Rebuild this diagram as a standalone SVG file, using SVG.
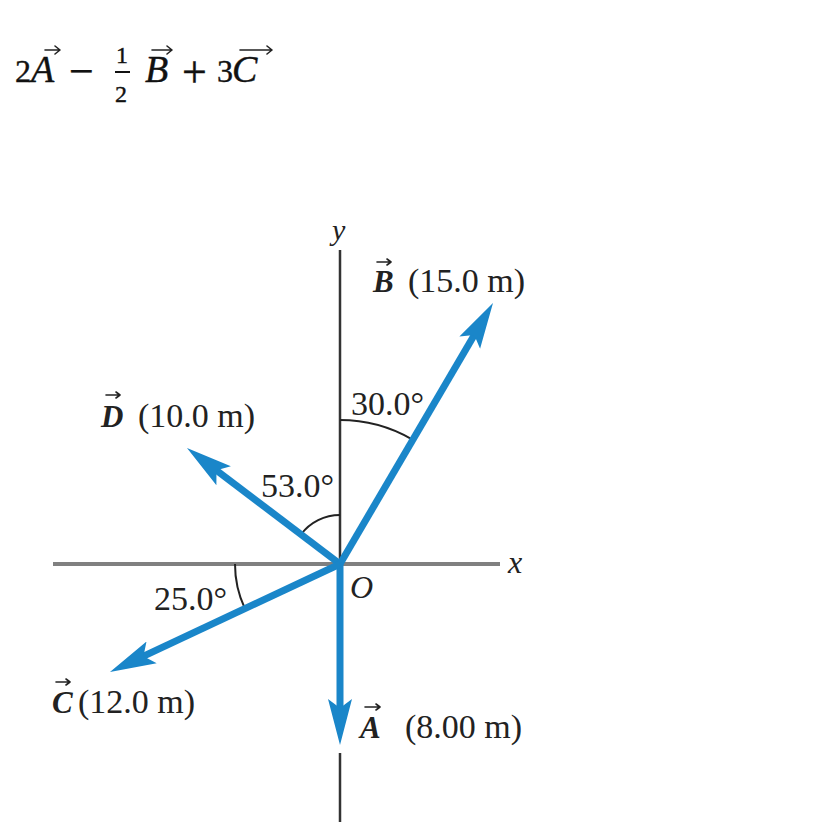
<svg xmlns="http://www.w3.org/2000/svg" width="818" height="835" viewBox="0 0 818 835">
<style>
.t{font-family:"Liberation Serif","Times New Roman",serif;fill:#222}
.eq{font-family:"Liberation Serif","Times New Roman",serif;fill:#111;stroke:#111;stroke-width:0.4}
.it{font-style:italic}
.bi{font-style:italic;font-weight:bold}
.vec{stroke:#1a86c9;stroke-width:7;fill:none}
.arc{stroke:#222;stroke-width:2;fill:none}
.ov{stroke:#222;stroke-width:1.6;fill:none;stroke-linecap:round;stroke-linejoin:round}
</style>
<defs>
<marker id="head" markerUnits="userSpaceOnUse" markerWidth="46" markerHeight="26" viewBox="0 0 46 26" refX="20" refY="13" orient="auto">
<path d="M46,13 L0,1 L9,13 L0,25 Z" fill="#1a86c9"/>
</marker>
</defs>
<rect width="818" height="835" fill="#fff"/>

<g id="equation">
<text class="eq" x="15" y="82" font-size="32">2</text>
<text class="eq it" x="31" y="82" font-size="38">A</text>
<path class="ov" d="M45,50 L60,50 M55,46 L60,50 L55,54"/>
<text class="eq" x="69" y="86" font-size="44">−</text>
<text class="eq" x="116" y="63" font-size="24">1</text>
<line x1="115" y1="72" x2="130" y2="72" stroke="#111" stroke-width="2"/>
<text class="eq" x="115" y="102" font-size="24">2</text>
<text class="eq it" x="145" y="82" font-size="38">B</text>
<path class="ov" d="M152,50 L172,50 M167,46 L172,50 L167,54"/>
<text class="eq" x="182" y="87" font-size="44">+</text>
<text class="eq" x="217" y="82" font-size="32">3</text>
<text class="eq it" x="232" y="82" font-size="38">C</text>
<path class="ov" d="M240,50 L272,50 M267,46 L272,50 L267,54"/>
</g>

<g id="axes">
<line x1="53" y1="564" x2="500" y2="564" stroke="#808080" stroke-width="4"/>
<line x1="340" y1="250" x2="340" y2="564" stroke="#333" stroke-width="2.5"/>
<line x1="340" y1="753" x2="340" y2="822" stroke="#333" stroke-width="2.5"/>
<text class="t it" x="332" y="240" font-size="30">y</text>
<text class="t it" x="508" y="573" font-size="32">x</text>
<text class="t it" x="350" y="598" font-size="32">O</text>
</g>

<g id="angles">
<path class="arc" d="M340,420 A144,144 0 0 1 412,439.3"/>
<path class="arc" d="M340,515 A49,49 0 0 0 300.9,534.5"/>
<path class="arc" d="M235,564 A105,105 0 0 0 244.8,608.4"/>
<text class="t" x="351" y="415" font-size="34">30.0°</text>
<text class="t" x="261" y="497" font-size="34">53.0°</text>
<text class="t" x="154" y="610" font-size="34">25.0°</text>
</g>

<g id="connectors">
<line class="vec" x1="340" y1="564" x2="340" y2="719" marker-end="url(#head)"/>
<line class="vec" x1="340" y1="564" x2="479.85" y2="325.43" marker-end="url(#head)"/>
<line class="vec" x1="340" y1="564" x2="207.7" y2="463.7" marker-end="url(#head)"/>
<line class="vec" x1="340" y1="564" x2="133.5" y2="660.95" marker-end="url(#head)"/>
</g>

<g id="labelB">
<text class="t bi" x="373" y="292" font-size="31">B</text>
<path class="ov" d="M377,262 L391,262 M387,259 L391,262 L387,265"/>
<text class="t" x="408" y="292" font-size="34">(15.0 m)</text>
</g>
<g id="labelD">
<text class="t bi" x="101" y="427" font-size="31">D</text>
<path class="ov" d="M106,395 L120,395 M116,392 L120,395 L116,398"/>
<text class="t" x="138" y="427" font-size="34">(10.0 m)</text>
</g>
<g id="labelC">
<text class="t bi" x="52" y="713" font-size="31">C</text>
<path class="ov" d="M56,682 L70,682 M66,679 L70,682 L66,685"/>
<text class="t" x="78" y="713" font-size="34">(12.0 m)</text>
</g>
<g id="labelA">
<text class="t bi" x="360" y="738" font-size="31">A</text>
<path class="ov" d="M365,707 L380,707 M376,704 L380,707 L376,710"/>
<text class="t" x="405" y="738" font-size="34">(8.00 m)</text>
</g>
</svg>
